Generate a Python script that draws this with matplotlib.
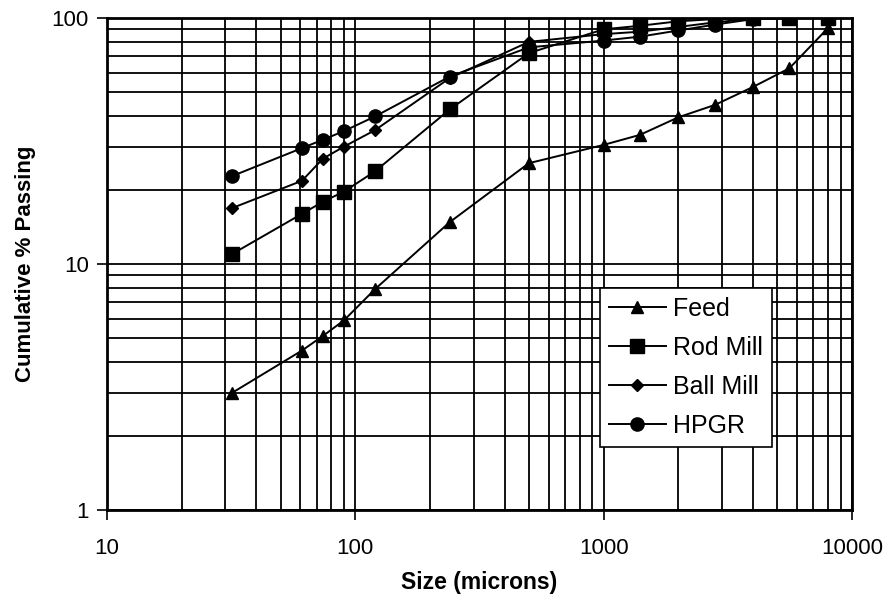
import matplotlib
matplotlib.use("Agg")
import matplotlib.pyplot as plt
from matplotlib.ticker import LogLocator, NullFormatter, FixedLocator, FixedFormatter

plt.rcParams['font.family'] = ['Liberation Sans', 'DejaVu Sans']

sizes = [32, 61, 74, 90, 120, 240, 500, 1000, 1400, 2000, 2800, 4000, 5600, 8000]
feed = [3.0, 4.45, 5.1, 5.9, 7.9, 14.8, 25.7, 30.5, 33.5, 39.5, 44.3, 52.5, 62.5, 91]
rod_mill = [11.0, 16.0, 17.9, 19.7, 23.8, 42.5, 72, 90, 93, 97, 99, 99.6, 99.8, 100]
ball_mill = [16.9, 21.8, 26.8, 30.0, 35.0, 57.0, 80, 86, 88, 92, 96, 99.5, 100, 100]
hpgr = [22.8, 29.6, 32.0, 34.7, 39.8, 57.8, 76, 81, 84, 89, 94, 99.0, 100, 100]

x_ticks = [10, 100, 1000, 10000]
x_tick_labels = ['10', '100', '1000', '10000']
y_ticks = [1, 10, 100]
y_tick_labels = ['1', '10', '100']

fig = plt.figure(figsize=(8.87, 5.97), dpi=100)
ax = fig.add_axes([0.1206, 0.1457, 0.8399, 0.8241])

lw = 1.4
ax.plot(sizes, feed, color='black', lw=lw, marker='^', ms=9, label='Feed', zorder=5)
ax.plot(sizes, rod_mill, color='black', lw=lw, marker='s', ms=9.5, label='Rod Mill', zorder=5)
ax.plot(sizes, ball_mill, color='black', lw=lw, marker='D', ms=6.5, label='Ball Mill', zorder=5)
ax.plot(sizes, hpgr, color='black', lw=lw, marker='o', ms=9.5, label='HPGR', zorder=5)

ax.set_xscale('log')
ax.set_yscale('log')
ax.set_xlim(10, 10000)
ax.set_ylim(1, 100)

ax.xaxis.set_major_locator(FixedLocator(x_ticks))
ax.xaxis.set_major_formatter(FixedFormatter(x_tick_labels))
ax.yaxis.set_major_locator(FixedLocator(y_ticks))
ax.yaxis.set_major_formatter(FixedFormatter(y_tick_labels))
ax.xaxis.set_minor_locator(LogLocator(base=10, subs=range(2, 10)))
ax.yaxis.set_minor_locator(LogLocator(base=10, subs=range(2, 10)))
ax.xaxis.set_minor_formatter(NullFormatter())
ax.yaxis.set_minor_formatter(NullFormatter())

ax.grid(True, which='both', color='black', lw=1.3)
ax.set_axisbelow(True)
ax.tick_params(which='major', direction='out', length=7, width=1.2, labelsize=16)
ax.tick_params(axis='y', which='major', pad=6)
ax.tick_params(axis='x', which='major', pad=13)
ax.tick_params(which='minor', length=0)

for s in ax.spines.values():
    s.set_linewidth(2)

ax.set_xlabel('Size (microns)', fontsize=16.5, fontweight='bold', labelpad=9)
ax.set_ylabel('Cumulative % Passing', fontsize=16, fontweight='bold', labelpad=11)

leg = ax.legend(loc='lower right', bbox_to_anchor=(0.8926, 0.128), borderaxespad=0,
                fontsize=18, frameon=True, fancybox=False, edgecolor='black', framealpha=1,
                handlelength=2.25, borderpad=0.36, labelspacing=0.6, handletextpad=0.3)
leg.get_frame().set_linewidth(1.2)

fig.savefig('out.png', dpi=100)
